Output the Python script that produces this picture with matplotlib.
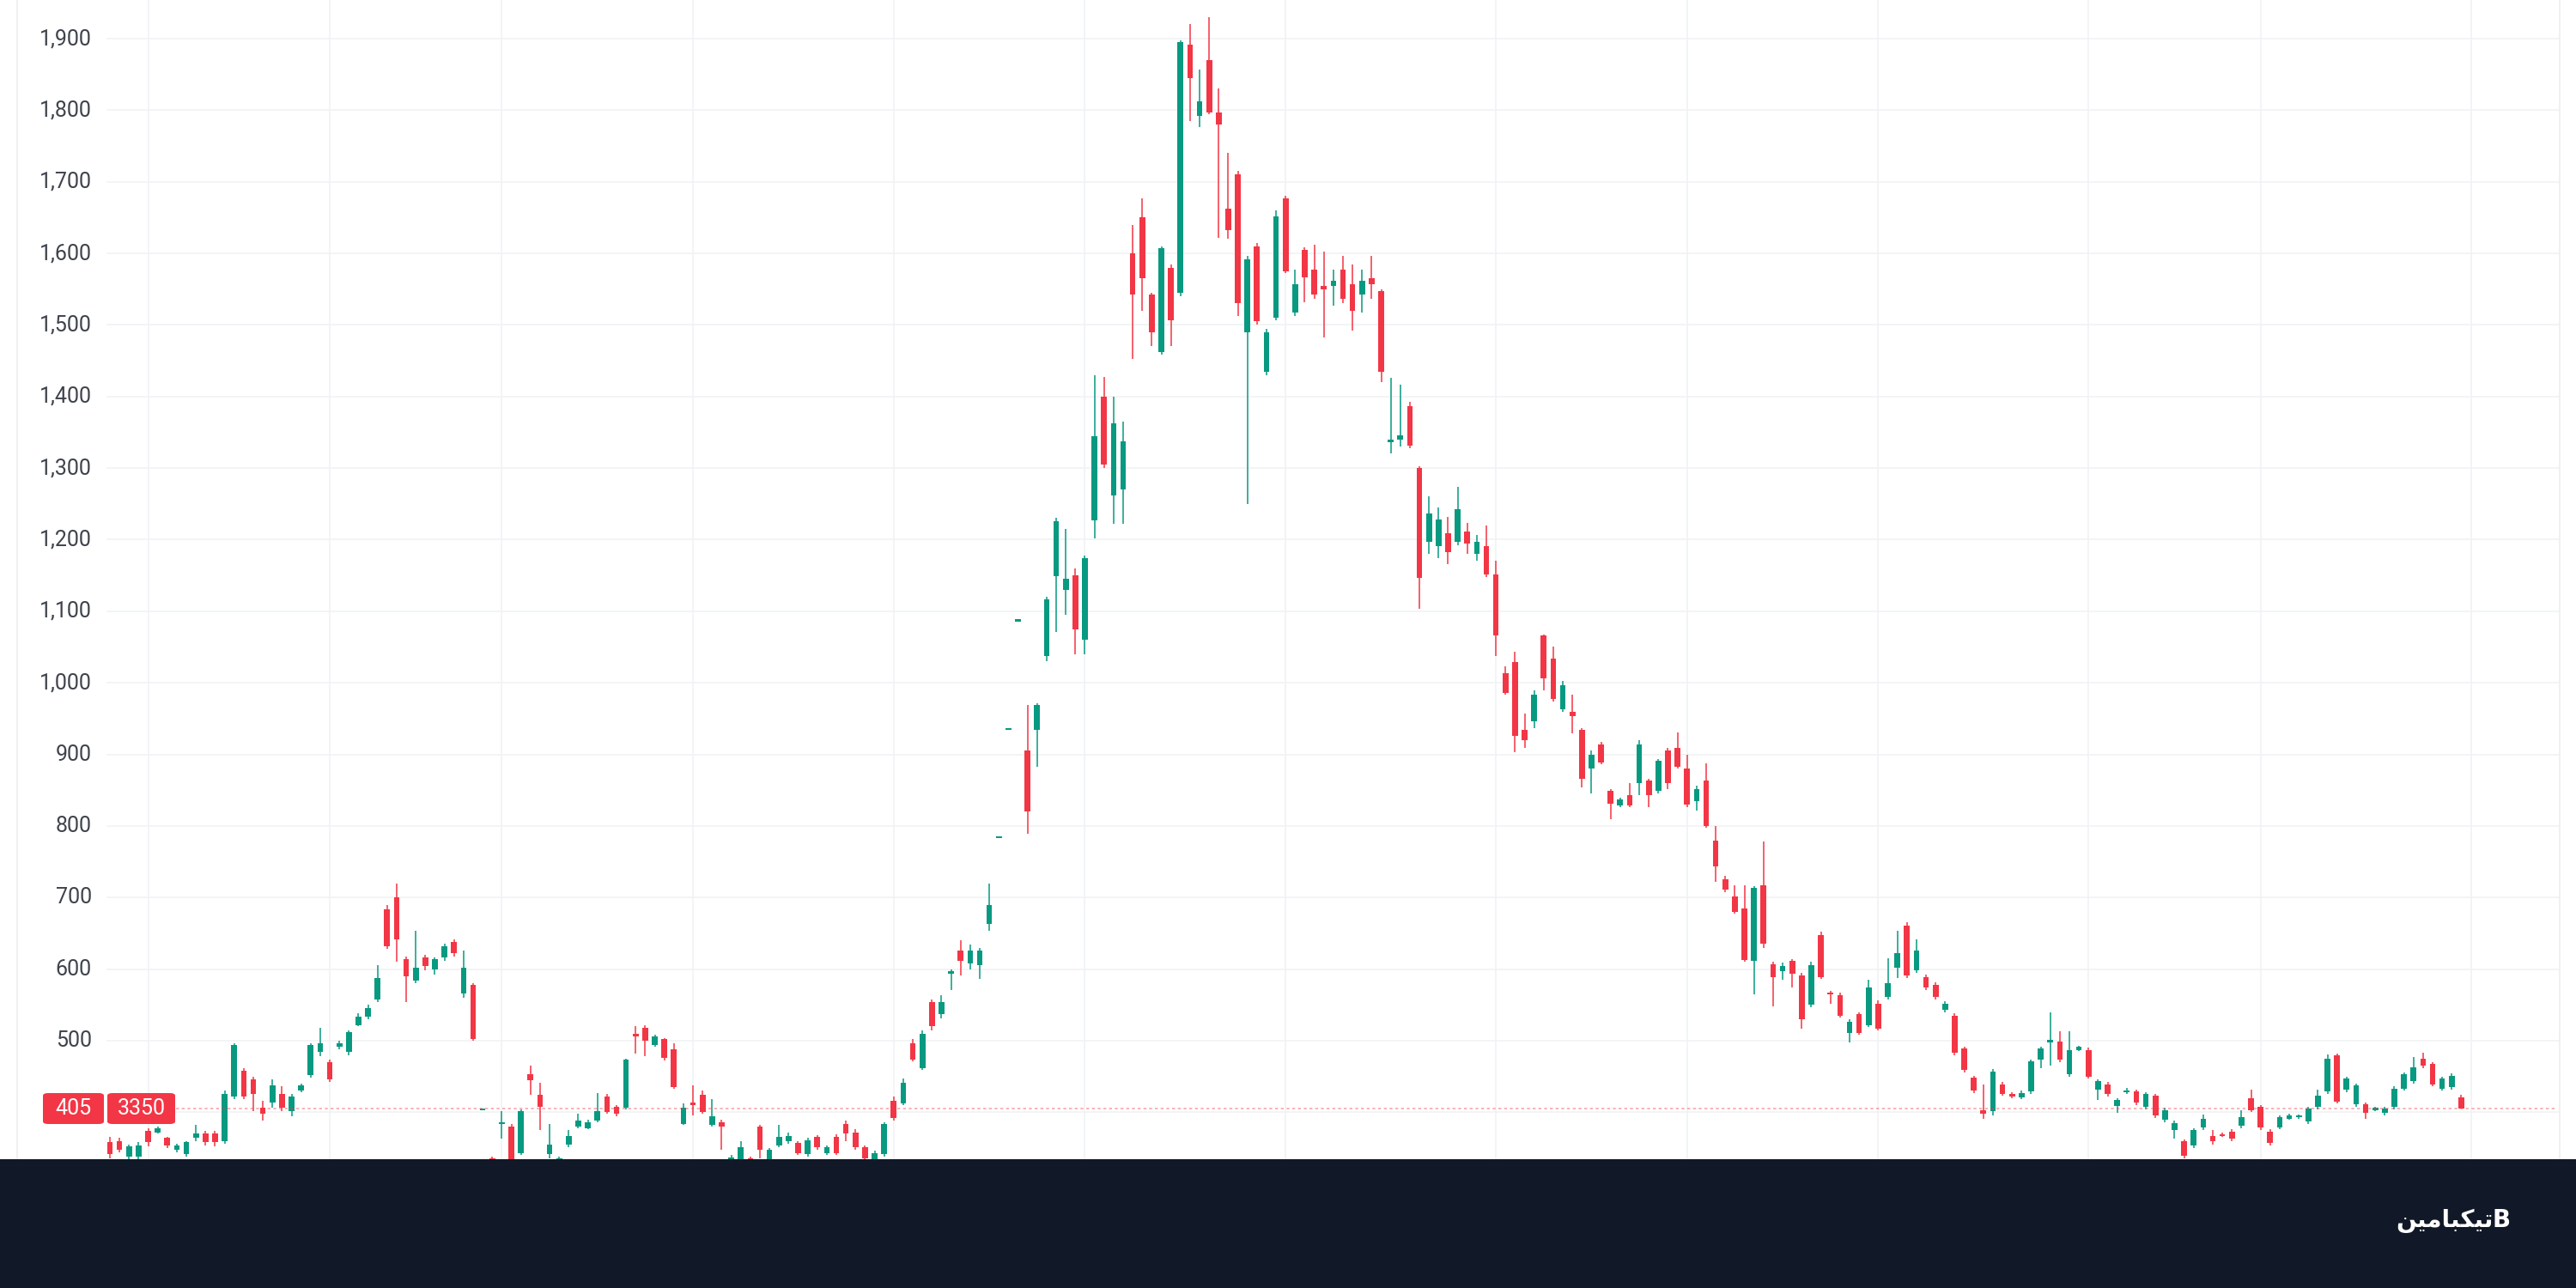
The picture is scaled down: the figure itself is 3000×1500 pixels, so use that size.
import matplotlib
matplotlib.use("Agg")
import matplotlib.pyplot as plt
import matplotlib.transforms as mtransforms
from matplotlib.patches import Rectangle, FancyBboxPatch
import numpy as np

# ---------------- data ----------------
opens = [
    358, 360, 338, 338, 374, 372, 364, 348, 342, 364,
    370, 370, 360, 422, 458, 446, 406, 414, 426, 402,
    430, 452, 484, 470, 492, 484, 522, 534, 558, 684,
    700, 614, 584, 616, 600, 616, 638, 566, 578, 403,
    335, 384, 380, 343, 453, 424, 341, 330, 355, 380,
    378, 388, 422, 408, 406, 510, 518, 494, 502, 488,
    384, 414, 424, 382, 386, 332, 331, 335, 380, 331,
    353, 359, 357, 341, 365, 343, 365, 384, 371, 351,
    331, 341, 416, 412, 496, 461, 554, 537, 594, 626,
    608, 606, 663, 783, 934, 1086, 906, 934, 1037, 1149,
    1130, 1150, 1060, 1227, 1400, 1262, 1270, 1600, 1650, 1542,
    1462, 1580, 1545, 1892, 1792, 1870, 1797, 1662, 1710, 1490,
    1610, 1435, 1510, 1677, 1517, 1605, 1577, 1555, 1555, 1577,
    1557, 1542, 1565, 1547, 1336, 1340, 1386, 1300, 1197, 1191,
    1209, 1197, 1211, 1180, 1191, 1151, 1014, 1029, 934, 946,
    1066, 1034, 963, 960, 934, 880, 914, 849, 829, 843,
    860, 863, 849, 906, 909, 880, 835, 863, 780, 726,
    702, 685, 611, 717, 607, 597, 611, 591, 550, 648,
    567, 563, 511, 537, 522, 552, 561, 602, 661, 598,
    589, 578, 543, 535, 489, 448, 403, 402, 439, 426,
    421, 429, 473, 497, 499, 453, 487, 487, 431, 439,
    409, 428, 429, 407, 423, 389, 375, 359, 353, 379,
    367, 369, 373, 381, 419, 407, 373, 379, 391, 393,
    387, 407, 429, 479, 431, 411, 411, 403, 399, 407,
    433, 443, 475, 467, 433, 435, 421,
]
highs = [
    366, 364, 355, 358, 378, 380, 366, 356, 360, 382,
    374, 374, 430, 496, 462, 450, 416, 446, 436, 426,
    440, 496, 518, 474, 500, 514, 538, 550, 606, 690,
    720, 618, 654, 620, 616, 636, 642, 626, 580, 403,
    338, 402, 384, 404, 465, 441, 384, 338, 375, 398,
    390, 427, 426, 410, 475, 520, 522, 508, 504, 496,
    412, 437, 430, 418, 390, 340, 360, 338, 382, 350,
    382, 372, 360, 364, 368, 354, 369, 388, 376, 354,
    346, 386, 422, 447, 502, 514, 558, 563, 600, 640,
    634, 630, 720, 783, 934, 1086, 969, 972, 1120, 1230,
    1215, 1160, 1178, 1430, 1427, 1400, 1365, 1640, 1677, 1545,
    1610, 1584, 1898, 1920, 1857, 1930, 1830, 1740, 1715, 1596,
    1614, 1494, 1660, 1680, 1577, 1608, 1612, 1602, 1577, 1597,
    1585, 1577, 1597, 1550, 1426, 1417, 1392, 1302, 1260, 1245,
    1232, 1274, 1223, 1206, 1220, 1171, 1023, 1043, 957, 989,
    1068, 1051, 1003, 983, 937, 906, 917, 852, 840, 860,
    920, 866, 894, 909, 931, 900, 856, 887, 800, 730,
    717, 717, 716, 778, 610, 609, 614, 595, 610, 652,
    570, 567, 530, 540, 585, 556, 615, 654, 665, 641,
    592, 581, 555, 538, 492, 451, 439, 460, 442, 428,
    430, 474, 491, 539, 513, 513, 493, 490, 446, 442,
    420, 434, 432, 428, 426, 406, 388, 362, 378, 397,
    375, 371, 376, 403, 431, 410, 376, 396, 398, 397,
    408, 431, 481, 482, 450, 440, 414, 408, 408, 436,
    456, 477, 483, 470, 450, 454, 424,
]
lows = [
    336, 344, 332, 330, 352, 370, 350, 344, 338, 360,
    354, 352, 356, 418, 418, 402, 388, 406, 402, 394,
    428, 448, 478, 442, 488, 480, 520, 530, 554, 628,
    610, 554, 580, 598, 592, 612, 618, 560, 500, 403,
    320, 363, 325, 340, 424, 375, 336, 326, 351, 378,
    376, 386, 398, 394, 404, 482, 478, 492, 472, 433,
    382, 396, 398, 380, 347, 325, 325, 318, 335, 326,
    351, 356, 340, 338, 348, 340, 340, 359, 348, 330,
    326, 338, 388, 410, 471, 459, 514, 531, 571, 591,
    600, 586, 654, 783, 934, 1086, 789, 883, 1030, 1071,
    1095, 1040, 1040, 1202, 1300, 1222, 1222, 1452, 1520, 1470,
    1458, 1470, 1540, 1785, 1777, 1795, 1622, 1620, 1512, 1250,
    1500, 1430, 1506, 1572, 1512, 1532, 1537, 1482, 1527, 1530,
    1492, 1517, 1537, 1420, 1320, 1330, 1328, 1103, 1180, 1174,
    1166, 1192, 1180, 1171, 1148, 1037, 983, 903, 909, 937,
    989, 974, 960, 929, 854, 846, 886, 809, 826, 826,
    843, 826, 846, 852, 880, 826, 822, 797, 722, 708,
    677, 610, 565, 630, 548, 585, 574, 517, 547, 586,
    552, 532, 498, 508, 519, 514, 558, 587, 588, 595,
    571, 558, 540, 480, 456, 427, 391, 396, 423, 420,
    418, 426, 461, 465, 470, 450, 485, 447, 417, 422,
    399, 426, 410, 404, 392, 386, 363, 335, 350, 375,
    355, 365, 360, 378, 400, 375, 354, 376, 389, 391,
    384, 404, 426, 412, 428, 408, 391, 401, 396, 404,
    430, 440, 462, 436, 430, 432, 405,
]
closes = [
    342, 348, 352, 354, 358, 378, 354, 354, 358, 370,
    358, 358, 426, 494, 422, 426, 398, 438, 406, 422,
    438, 494, 496, 446, 496, 512, 534, 546, 588, 632,
    642, 590, 602, 604, 614, 632, 622, 602, 502, 403,
    325, 385, 332, 402, 445, 408, 355, 335, 367, 388,
    386, 402, 400, 398, 473, 506, 500, 506, 476, 435,
    406, 410, 400, 394, 380, 337, 351, 325, 347, 347,
    365, 367, 343, 361, 351, 351, 343, 370, 351, 336,
    343, 384, 392, 441, 473, 510, 520, 554, 597, 611,
    626, 626, 689, 783, 934, 1086, 820, 969, 1117, 1226,
    1145, 1075, 1174, 1345, 1305, 1362, 1337, 1542, 1565, 1490,
    1607, 1507, 1895, 1845, 1812, 1797, 1780, 1632, 1530, 1592,
    1505, 1490, 1652, 1575, 1557, 1567, 1542, 1550, 1562, 1537,
    1520, 1562, 1557, 1435, 1340, 1346, 1331, 1146, 1237, 1228,
    1183, 1243, 1194, 1197, 1151, 1066, 986, 926, 920, 983,
    1006, 977, 997, 954, 866, 900, 889, 831, 837, 829,
    914, 843, 891, 860, 883, 830, 852, 800, 743, 711,
    680, 613, 713, 635, 589, 604, 593, 530, 606, 589,
    565, 535, 526, 511, 574, 517, 580, 622, 591, 626,
    574, 561, 552, 483, 459, 430, 398, 457, 426, 422,
    427, 471, 489, 501, 473, 487, 491, 449, 443, 425,
    417, 430, 413, 425, 395, 403, 385, 339, 375, 391,
    359, 367, 363, 393, 403, 379, 357, 393, 395, 395,
    405, 423, 475, 415, 447, 437, 399, 406, 405, 433,
    453, 463, 465, 439, 447, 451, 405,
]
# month separators (candle index of vertical grid lines)
month_grid_idx = [4, 23, 41, 61, 82, 102, 123, 145, 165, 185, 207, 225, 247]
price_ticks = [500, 600, 700, 800, 900, 1000, 1100, 1200, 1300, 1400,
               1500, 1600, 1700, 1800, 1900]
last_price = 405
last_label = "405"
countdown_label = "3350"
brand_text = "\ufee6\ufbff\ufee3\ufe8e\ufe92\ufb91\ufbff\ufe97"  # تیکبامین (visual order)

# ---------------- figure ----------------
W, H = 3000, 1500
fig = plt.figure(figsize=(15, 7.5), dpi=200)
fig.patch.set_facecolor("white")
ax = fig.add_axes([0, 0.1, 1, 0.9])
ax.set_facecolor("white")
for s in ax.spines.values():
    s.set_visible(False)
ax.set_xticks([])
ax.set_yticks([])

n = len(closes)
x = np.arange(n)
ax.set_xlim(-11.5, 258.0)
ax.set_ylim(334.4, 1954)

UP = "#089981"
DOWN = "#f23645"
GRID = "#f0f2f5"

# horizontal grid
for v in price_ticks + [400]:
    ax.axhline(v, xmin=125 / W, xmax=2981 / W, color=GRID, lw=0.6, zorder=0)
# vertical grid
for gi in month_grid_idx:
    ax.axvline(gi, color=GRID, lw=0.6, zorder=0)
ax.axvline(-9.7, color="#eceef1", lw=0.6, zorder=0)
ax.axvline(256.3, color="#eceef1", lw=0.6, zorder=0)

o = np.array(opens, float)
h = np.array(highs, float)
l = np.array(lows, float)
c = np.array(closes, float)
up = c >= o
cols = np.where(up, UP, DOWN)

ax.vlines(x, l, h, colors=cols, lw=0.55, zorder=2)
bottoms = np.minimum(o, c)
heights = np.maximum(np.abs(c - o), 2.5)
ax.bar(x, heights, bottom=bottoms, width=0.6, color=cols, linewidth=0, zorder=3)

# price line
ax.axhline(last_price, xmin=205 / W, xmax=2978 / W, color=DOWN, lw=0.6,
           alpha=0.45, ls=(0, (2, 2)), zorder=4)

# y labels
trans = mtransforms.blended_transform_factory(ax.transAxes, ax.transData)
for v in price_ticks:
    ax.text(107 / W, v, f"{v:,}", transform=trans, ha="right", va="center",
            fontsize=9, color="#3f434c", family=["Roboto", "DejaVu Sans"], zorder=5)

# last price labels
def fig_box(x0, x1, y0, y1, color):
    p = FancyBboxPatch((x0 / W, 1 - y1 / H), (x1 - x0) / W, (y1 - y0) / H,
                       boxstyle="round,pad=0,rounding_size=0.002",
                       transform=fig.transFigure, facecolor=color,
                       edgecolor="none", zorder=10)
    fig.patches.append(p)

fig_box(50, 121, 1273, 1309, DOWN)
fig_box(125, 204, 1273, 1309, DOWN)
fig.text((50 + 121) / 2 / W, 1 - 1291 / H, last_label, ha="center", va="center",
         fontsize=9, color="white", family=["Roboto", "DejaVu Sans"], zorder=11)
fig.text((125 + 204) / 2 / W, 1 - 1291 / H, countdown_label, ha="center", va="center",
         fontsize=9, color="white", family=["Roboto", "DejaVu Sans"], zorder=11)

# bottom band
band = Rectangle((0, 0), 1, 0.1, transform=fig.transFigure, facecolor="#111827",
                 edgecolor="none", zorder=20)
fig.patches.append(band)
fig.text(2903 / W, 1 - 1422 / H, brand_text, ha="right", va="center",
         fontsize=10, fontweight="bold", color="white",
         family=["DejaVu Sans"], zorder=21)
fig.text(2913 / W, 1 - 1421 / H, "B", ha="center", va="center",
         fontsize=10, fontweight="bold", color="white",
         family=["DejaVu Sans"], zorder=21)

fig.savefig("out.png", dpi=200, facecolor="white")
